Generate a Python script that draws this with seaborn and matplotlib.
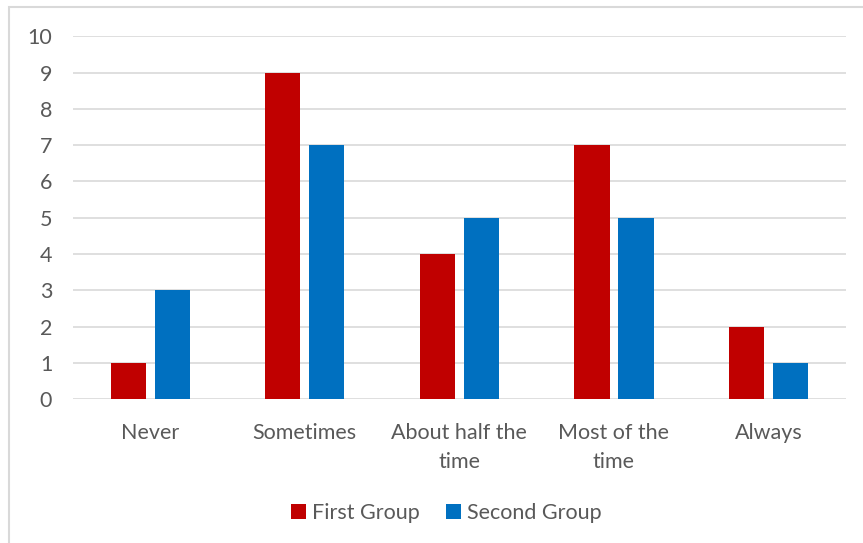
import matplotlib
matplotlib.use("Agg")
import matplotlib.pyplot as plt
from matplotlib.patches import Rectangle, Patch
import seaborn as sns
import pandas as pd

categories = ["Never", "Sometimes", "About half the\ntime", "Most of the\ntime", "Always"]
first_group = [1, 9, 4, 7, 2]
second_group = [3, 7, 5, 5, 1]
series_names = ["First Group", "Second Group"]
colors = ["#C00000", "#0070C0"]
y_ticks = list(range(0, 11))

df = pd.DataFrame({
    "category": categories * 2,
    "value": first_group + second_group,
    "series": [series_names[0]] * len(categories) + [series_names[1]] * len(categories),
})

sns.set_theme(style="white")
plt.rcParams["font.family"] = ["Lato", "DejaVu Sans"]
text_color = "#595959"
grid_color = "#D9D9D9"

fig = plt.figure(figsize=(8.63, 5.43), dpi=100)
ax = fig.add_axes([0.0846, 0.265, 0.8954, 0.668])

sns.barplot(data=df, x="category", y="value", hue="series", order=categories,
            hue_order=series_names, palette=colors, width=0.57, gap=0.2,
            saturation=1, linewidth=0, ax=ax, legend=False)

ax.set_ylim(0, 10)
ax.set_yticks(y_ticks)
ax.set_xlim(-0.5, len(categories) - 0.5)
ax.yaxis.grid(True, color=grid_color, linewidth=1.2)
ax.set_axisbelow(True)
for s in ax.spines.values():
    s.set_visible(False)
ax.tick_params(axis="both", length=0, colors=text_color, labelsize=15.5)
ax.tick_params(axis="y", pad=15)
ax.tick_params(axis="x", pad=17)
for lbl in ax.get_xticklabels():
    lbl.set_linespacing(1.55)
ax.set_xlabel("")
ax.set_ylabel("")

handles = [Patch(facecolor=c, edgecolor="none") for c in colors]
fig.legend(handles, series_names, loc="center", bbox_to_anchor=(0.517, 0.055),
           ncol=2, frameon=False, fontsize=15.5, labelcolor=text_color,
           handlelength=0.7, handleheight=0.7, handletextpad=0.3,
           columnspacing=1.2)

# chart area outline
fig.patches.append(Rectangle((9 / 863, -0.05), 1.2, 1 - 7 / 543 + 0.05,
                             transform=fig.transFigure, fill=False,
                             edgecolor=grid_color, linewidth=1.5))

fig.savefig("out.png", dpi=100)
